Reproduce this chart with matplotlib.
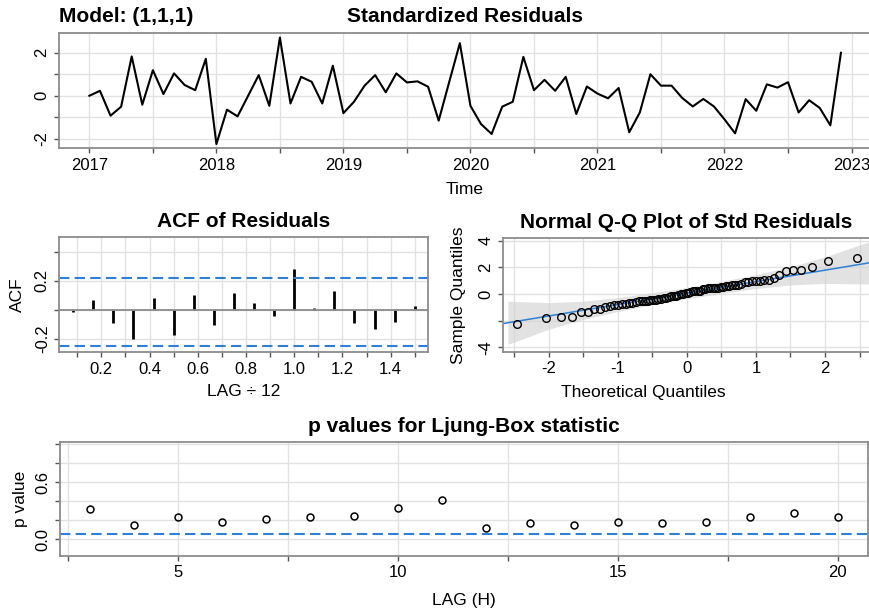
import numpy as np
import matplotlib
matplotlib.use("Agg")
import matplotlib.pyplot as plt
from statistics import NormalDist

plt.rcParams["font.family"] = ["Liberation Sans", "DejaVu Sans"]

# standardized residuals, monthly Jan 2017 .. Dec 2022
resid = [
    0.00, 0.23, -0.93, -0.51, 1.83, -0.42, 1.19, 0.08, 1.04, 0.50, 0.26, 1.72,
    -2.25, -0.65, -0.96, 0.00, 0.96, -0.47, 2.71, -0.36, 0.88, 0.65, -0.36, 1.40,
    -0.81, -0.28, 0.47, 0.96, 0.16, 1.04, 0.62, 0.67, 0.42, -1.16, 0.65, 2.45,
    -0.47, -1.32, -1.78, -0.51, -0.28, 1.81, 0.26, 0.74, 0.23, 0.88, -0.85, 0.43,
    0.10, -0.12, 0.36, -1.70, -0.78, 1.00, 0.47, 0.47, -0.10, -0.50, -0.15, -0.50,
    -1.10, -1.75, -0.16, -0.70, 0.53, 0.38, 0.63, -0.78, -0.21, -0.57, -1.38, 2.00,
]
start_year = 2017

# ACF of residuals, lags 1..18
acf_vals = [-0.014, 0.07, -0.093, -0.202, 0.081, -0.17, 0.105, -0.105, 0.116,
            0.047, -0.04, 0.279, 0.014, 0.128, -0.093, -0.135, -0.081, 0.028]
acf_upper = 0.222
acf_lower = -0.25

# Ljung-Box p values
lb_lags = list(range(3, 21))
lb_pvals = [0.312, 0.147, 0.228, 0.182, 0.21, 0.228, 0.246, 0.33, 0.41,
            0.112, 0.165, 0.147, 0.175, 0.165, 0.182, 0.228, 0.28, 0.228]
lb_level = 0.05

# grey band around the Q-Q line (half widths)
band_z = [-2.59, -2.0, -1.5, -1.0, -0.5, 0.0, 0.5, 1.0, 1.5, 2.0, 2.65]
band_half = [1.62, 1.0, 0.68, 0.52, 0.45, 0.42, 0.45, 0.52, 0.68, 1.0, 1.6]

W, H = 869, 612
fig = plt.figure(figsize=(W / 100, H / 100), dpi=100)

GRID = "#E2E2E2"
FRAME = "#8C8C8C"
BLUE = "#2F80D4"
TICK = 12
LAB = 12.5
TITLE = 15


def box(l, t, r, b):
    return [l / W, 1 - b / H, (r - l) / W, (b - t) / H]


def style(ax):
    for s in ax.spines.values():
        s.set_color(FRAME)
        s.set_linewidth(1.3)
    ax.tick_params(length=3.5, width=1, color="#555555", labelsize=TICK, pad=3.5)
    ax.tick_params(axis="y", labelrotation=90)
    for lab in ax.get_yticklabels():
        lab.set_va("center")
    ax.grid(True, color=GRID, lw=1)
    ax.set_axisbelow(True)


def ftext(x, y, s, **kw):
    fig.text(x / W, 1 - y / H, s, ha="center", va="center", **kw)


# Standardized residuals
ax1 = fig.add_axes(box(59.3, 33.3, 871, 148.3))
t = start_year + np.arange(len(resid)) / 12
ax1.plot(t, resid, color="black", lw=1.5)
ax1.margins(x=0.04, y=0.04)
xt = np.arange(2017, 2023.01, 0.5)
ax1.set_xticks(xt)
ax1.set_xticklabels([str(int(v)) if v == int(v) else "" for v in xt])
ax1.set_yticks([-2, -1, 0, 1, 2])
ax1.set_yticklabels(["-2", "", "0", "", "2"])
style(ax1)
fig.text(59 / W, 1 - 17 / H, "Model: (1,1,1)", ha="left", va="center",
         fontsize=TITLE, fontweight="bold")
ftext(465, 17, "Standardized Residuals", fontsize=TITLE, fontweight="bold")
ftext(465, 190, "Time", fontsize=LAB)

# ACF
ax2 = fig.add_axes(box(59.5, 237.3, 428.4, 352))
lags = np.arange(1, len(acf_vals) + 1) / 12
ax2.vlines(lags, 0, acf_vals, color="black", lw=2)
ax2.axhline(0, color=FRAME, lw=1.3)
ax2.axhline(acf_upper, color=BLUE, lw=1.5, ls=(0, (5, 2.5)))
ax2.axhline(acf_lower, color=BLUE, lw=1.5, ls=(0, (5, 2.5)))
ax2.margins(x=0.04)
ax2.set_ylim(-0.29, 0.50)
xt2 = np.round(np.arange(0.1, 1.51, 0.1), 1)
ax2.set_xticks(xt2)
ax2.set_xticklabels([f"{v:.1f}" if round(v * 10) % 2 == 0 else "" for v in xt2])
ax2.set_yticks([-0.2, 0, 0.2, 0.4])
ax2.set_yticklabels(["-0.2", "", "0.2", ""])
style(ax2)
ftext(244, 221, "ACF of Residuals", fontsize=TITLE, fontweight="bold")
ftext(244, 391, "LAG \u00f7 12", fontsize=LAB)
ftext(17, 295, "ACF", fontsize=LAB, rotation=90)

# Normal Q-Q
ax3 = fig.add_axes(box(503.3, 238.3, 870.4, 351.7))
srt = np.sort(resid)
n = len(srt)
nd = NormalDist()
theo = np.array([nd.inv_cdf((i + 0.5) / n) for i in range(n)])
q1, q3 = np.quantile(resid, [0.25, 0.75])
z1, z3 = nd.inv_cdf(0.25), nd.inv_cdf(0.75)
slope = (q3 - q1) / (z3 - z1)
icpt = q1 - slope * z1
bz = np.array(band_z)
fit = icpt + slope * bz
ax3.fill_between(bz, fit - np.array(band_half), fit + np.array(band_half),
                 color="#D0D0D0", alpha=0.6, lw=0)
ax3.axline((0, icpt), slope=slope, color=BLUE, lw=1.1)
ax3.plot(theo, srt, "o", mfc="none", mec="black", ms=5.5, mew=1)
span = theo[-1] - theo[0]
ax3.set_xlim(theo[0] - 0.04 * span, theo[-1] + 0.04 * span)
ax3.set_ylim(-4.33, 4.18)
xt3 = np.arange(-2.5, 2.51, 0.5)
ax3.set_xticks(xt3)
ax3.set_xticklabels([str(int(v)) if v == int(v) else "" for v in xt3])
ax3.set_yticks([-4, -2, 0, 2, 4])
ax3.set_yticklabels(["-4", "", "0", "2", "4"])
style(ax3)
ftext(686, 223, "Normal Q-Q Plot of Std Residuals", fontsize=TITLE, fontweight="bold")
ftext(643, 393, "Theoretical Quantiles", fontsize=LAB)
ftext(459, 295, "Sample Quantiles", fontsize=LAB, rotation=90)

# Ljung-Box p values
ax4 = fig.add_axes(box(59.8, 442.3, 867.6, 555.7))
ax4.plot(lb_lags, lb_pvals, "o", mfc="none", mec="black", ms=5, mew=1.1)
ax4.axhline(lb_level, color=BLUE, lw=1.5, ls=(0, (5, 2.5)))
ax4.margins(x=0.04)
ax4.set_ylim(-0.175, 1.02)
xt4 = np.arange(2.5, 20.01, 2.5)
ax4.set_xticks(xt4)
ax4.set_xticklabels([str(int(v)) if v % 5 == 0 else "" for v in xt4])
ax4.set_yticks([0, 0.2, 0.4, 0.6, 0.8, 1.0])
ax4.set_yticklabels(["0.0", "", "", "0.6", "", ""])
style(ax4)
ftext(464, 427, "p values for Ljung-Box statistic", fontsize=TITLE, fontweight="bold")
ftext(464, 600, "LAG (H)", fontsize=LAB)
ftext(20, 499, "p value", fontsize=LAB, rotation=90)

fig.savefig("out.png", dpi=100)
